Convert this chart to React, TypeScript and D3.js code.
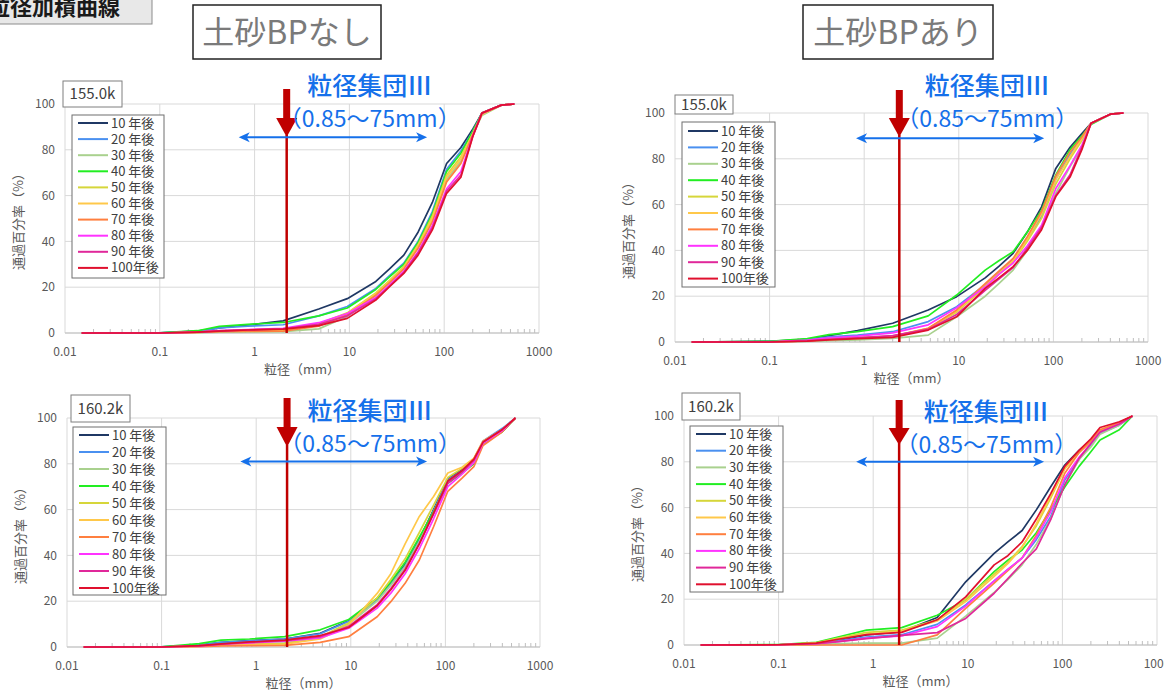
import React from 'react';
import * as d3 from 'd3';

// sieve sizes (mm) shared by every curve
const SIZES = [0.015, 0.1, 0.25, 0.425, 0.85, 2, 4.75, 9.5, 19, 26.5, 37.5, 53, 75, 106, 150, 200, 250, 400, 550];

const YEARS = ['10 年後', '20 年後', '30 年後', '40 年後', '50 年後', '60 年後', '70 年後', '80 年後', '90 年後', '100年後'];
const COLORS = ['#1f3864', '#4a90f0', '#a9d18e', '#22ee22', '#d6d63a', '#ffc84a', '#ff7f3f', '#ff33ff', '#e0289a', '#e0102e'];

const X_TICKS = [0.01, 0.1, 1, 10, 100, 1000];
const X_TICK_LABELS = ['0.01', '0.1', '1', '10', '100', '1000'];
const Y_TICKS = [0, 20, 40, 60, 80, 100];

// 土砂BPなし 155.0k
const NASHI_155 = [
  [0, 0.1, 0.8, 2.2, 3.5, 5.3, 10.5, 15, 22.5, 28, 34, 44, 57, 74, 81, 89, 96, 99.5, 100],
  [0, 0.1, 0.7, 2.2, 3, 3.6, 7.5, 11.6, 19.5, 25, 30.5, 40, 53, 71.5, 79.5, 88, 96, 99.5, 100],
  [0, 0, 0.2, 0.4, 0.5, 0.6, 1.8, 7.2, 16.5, 22, 28.5, 38, 50, 67, 75, 86.5, 95, 99.5, 100],
  [0, 0.1, 1, 2.9, 3.8, 4.6, 7.5, 10.9, 19, 24.5, 30, 39.5, 52, 70.5, 78.5, 88, 96, 99.5, 100],
  [0, 0, 0.4, 0.9, 1.2, 1.5, 4, 8.8, 17.5, 23, 29, 38.5, 51, 69, 77, 87, 95.5, 99.5, 100],
  [0, 0, 0.3, 0.8, 1, 1.2, 3.6, 8.5, 17, 22.5, 28.5, 38, 50, 68, 76, 87, 95.5, 99.5, 100],
  [0, 0, 0.3, 0.6, 0.7, 0.8, 3, 8, 16.5, 22, 28, 37, 48.5, 66, 74, 86.5, 96, 99.5, 100],
  [0, 0, 0.4, 1, 1.5, 2, 4.5, 8.5, 15.5, 21, 27, 35.5, 47, 63, 70.5, 86, 96, 99.5, 100],
  [0, 0, 0.4, 0.9, 1.4, 1.8, 3.8, 7.5, 15, 20.5, 26.5, 35, 46, 62, 69, 86, 96, 99.5, 100],
  [0, 0, 0.4, 0.8, 1.3, 1.7, 3.2, 6.4, 14.4, 20.2, 26, 34, 45, 61, 68, 85.7, 96, 99.5, 100],
];

// 土砂BPあり 155.0k
const ARI_155 = [
  [0, 0.3, 1.2, 2.8, 5, 8.2, 14, 19.8, 28, 33, 38.7, 48, 59, 75.8, 85, 91, 95.5, 99.5, 100],
  [0, 0.2, 1, 2.2, 3, 4.5, 8.9, 15.4, 25, 30.5, 36, 45, 55, 71, 82, 89, 95.5, 99.5, 100],
  [0, 0, 0.3, 0.6, 0.9, 1.6, 3, 11, 20, 25.5, 31.4, 40, 50.4, 65, 76.6, 85, 95.5, 99.5, 100],
  [0, 0.3, 1.5, 3.2, 4.5, 6.7, 11.4, 20.5, 31.4, 35.5, 39.4, 48, 57.6, 73, 84, 90, 95, 99.5, 100],
  [0, 0, 0.5, 1.2, 1.8, 2.5, 6, 13, 24, 29.5, 35, 44, 54, 69, 80, 88, 95.5, 99.5, 100],
  [0, 0, 0.5, 1, 1.6, 2.3, 5.8, 13.5, 24.5, 30, 35.5, 45, 56, 71, 81, 89, 95.5, 99.5, 100],
  [0, 0, 0.5, 1.2, 1.8, 2.6, 6, 14, 25.5, 31, 36.5, 46, 57, 72.5, 83, 89.5, 95.5, 99.5, 100],
  [0, 0.1, 0.8, 1.8, 2.6, 4, 7.5, 15, 24, 29.5, 34.5, 42, 51, 67, 77, 86, 95.5, 99.5, 100],
  [0, 0, 0.5, 1.2, 1.8, 2.8, 5.5, 12, 22.5, 27.5, 32.5, 41, 50, 64, 73, 85, 95.5, 99.5, 100],
  [0, 0, 0.4, 0.9, 1.5, 2, 5.2, 11, 23.4, 28, 32.9, 40, 49, 63.5, 72, 84, 95.5, 99.5, 100],
];

// 土砂BPなし 160.2k
const NASHI_160 = [
  [0, 0.1, 0.8, 2, 2.8, 3.5, 6, 11.5, 21, 28, 36, 47, 60, 73.5, 77.5, 82, 89.5, 95, 100],
  [0, 0.1, 0.8, 2, 2.7, 3.4, 5.8, 11.2, 20.5, 27.5, 35.5, 46.5, 59.5, 73, 77, 82, 90, 95.5, 100],
  [0, 0, 0.5, 1.2, 1.5, 1.8, 4, 10, 20, 27, 35, 46, 59, 72, 76, 80.5, 88.5, 94, 100],
  [0, 0.1, 1.5, 3, 3.5, 4.5, 7.5, 12, 21.3, 28.5, 37, 48, 59, 71.5, 76, 80, 89, 94, 100],
  [0, 0, 0.5, 1, 1.3, 1.5, 4.5, 10.5, 21.5, 29.5, 38.5, 50, 62, 74, 78, 82, 89.5, 95, 100],
  [0, 0, 0.4, 0.8, 1, 1.2, 3.5, 9.5, 23.4, 32, 45, 57, 65.7, 76, 78.5, 82.5, 90, 95, 100],
  [0, 0, 0.2, 0.5, 0.6, 0.7, 2, 4.5, 13.2, 19.8, 27.8, 38, 52.5, 68, 73.7, 78.8, 88, 94, 100],
  [0, 0, 0.5, 1.2, 1.8, 2.5, 4, 8.2, 17, 23.5, 32, 43, 56, 70, 75.5, 80.5, 89, 94.5, 100],
  [0, 0, 0.5, 1.2, 2, 2.8, 4.5, 9, 18.5, 25.5, 34, 45, 58, 71.5, 76.5, 81.5, 89.5, 95, 100],
  [0, 0, 0.6, 1.4, 2.2, 3, 5, 8.5, 18, 25, 33.5, 45, 58.5, 72.5, 77, 82, 89.5, 95, 100],
];

// 土砂BPあり 160.2k
const ARI_160 = [
  [0, 0.1, 0.8, 2, 4.4, 5.8, 12, 27.6, 40, 45, 50, 59, 69, 78.6, 85, 89.5, 93, 96.8, 100],
  [0, 0.1, 0.6, 1.8, 3.5, 4.5, 9, 17.5, 28, 33, 38, 46, 56, 72, 81, 87.5, 92.5, 96, 100],
  [0, 0, 0.3, 0.6, 0.8, 0.8, 3, 12.6, 23, 28.5, 35, 44, 55, 70, 81, 86.5, 92, 96, 100],
  [0, 0.2, 1.2, 3.5, 6.5, 7.6, 13, 19.7, 32, 37, 41.5, 49, 59, 69, 78, 84.4, 89.5, 94, 100],
  [0, 0.1, 1, 3, 5.5, 6.5, 11, 20, 31, 36, 43, 52, 64, 77, 84, 89, 93.5, 97, 100],
  [0, 0.1, 0.8, 2.5, 4.8, 6, 10.5, 19, 30, 35.5, 42.5, 53, 65, 77, 84.5, 89.5, 94, 97, 100],
  [0, 0, 0, 0, 0, 0, 4.4, 16, 27, 32.5, 38, 48, 60, 75, 84, 89, 94, 97, 100],
  [0, 0.1, 0.6, 1.5, 3, 4, 8, 17, 28, 33, 38, 47, 58, 73, 82, 88, 93, 96.5, 100],
  [0, 0.1, 0.6, 1.5, 2.8, 4.2, 5.4, 11.6, 22.6, 29, 35.7, 42, 54.6, 70, 81.5, 88, 93, 96.5, 100],
  [0, 0.1, 0.8, 2.5, 4.5, 5.5, 11, 21, 35, 39, 45, 55, 66, 78, 85, 90, 95, 97.5, 100],
];

const PANELS = [
  {
    data: NASHI_155, tag: '155.0k', x0: 65, x1: 539, yTop: 104, yBot: 333,
    tagBox: { x: 63, y: 81, w: 59, h: 26 },
    legend: { x: 72, y: 115, w: 92, h: 163, first: 123, step: 16.1 },
    red: { x: 2.18, top: 89, base: 118, tip: 137 },
    blue: { y: 85.5, from: 0.68, to: 66 },
    note: { x: 16.4, y1: 95, y2: 127 },
  },
  {
    data: ARI_155, tag: '155.0k', x0: 675, x1: 1148, yTop: 113, yBot: 342,
    tagBox: { x: 675, y: 95, w: 58, h: 19 },
    legend: { x: 682, y: 122, w: 93, h: 165, first: 131, step: 16.4 },
    red: { x: 2.35, top: 90, base: 118, tip: 137 },
    blue: { y: 89, from: 0.82, to: 80 },
    note: { x: 20, y1: 95, y2: 127 },
  },
  {
    data: NASHI_160, tag: '160.2k', x0: 67, x1: 540, yTop: 418, yBot: 647,
    tagBox: { x: 71, y: 395, w: 59, h: 27 },
    legend: { x: 73, y: 427, w: 93, h: 168, first: 435, step: 17 },
    red: { x: 2.12, top: 398, base: 427, tip: 447 },
    blue: { y: 81, from: 0.68, to: 64 },
    note: { x: 16, y1: 420, y2: 452 },
  },
  {
    data: ARI_160, tag: '160.2k', x0: 684, x1: 1157, yTop: 416, yBot: 645,
    tagBox: { x: 682, y: 393, w: 58, h: 27 },
    legend: { x: 690, y: 426, w: 93, h: 166, first: 434, step: 16.7 },
    red: { x: 1.88, top: 400, base: 428, tip: 445 },
    blue: { y: 80, from: 0.66, to: 64 },
    note: { x: 15.7, y1: 421, y2: 453 },
  },
];

const FONT = '"Noto Sans CJK JP", "Noto Sans", sans-serif';
const BLUE = '#1570ea';
const RED = '#c00000';

function Panel({ p }: { p: any }) {
  const x = d3.scaleLog().domain([0.01, 1000]).range([p.x0, p.x1]);
  const y = d3.scaleLinear().domain([0, 100]).range([p.yBot, p.yTop]);
  const line = d3.line<number>().x((_, i) => x(SIZES[i])).y(d => y(d));
  const minor = x.ticks().filter(t => Math.abs(Math.log10(t) - Math.round(Math.log10(t))) > 1e-6);

  const rx = x(p.red.x);
  const by = y(p.blue.y);
  const bx0 = x(p.blue.from);
  const bx1 = x(p.blue.to);
  const nx = x(p.note.x);

  return (
    <g>
      {/* grid */}
      {Y_TICKS.map(t => (
        <line key={'gy' + t} x1={p.x0} x2={p.x1} y1={y(t)} y2={y(t)} stroke="#d9d9d9" strokeWidth={1} />
      ))}
      {X_TICKS.map(t => (
        <line key={'gx' + t} x1={x(t)} x2={x(t)} y1={p.yTop} y2={p.yBot} stroke="#d9d9d9" strokeWidth={1} />
      ))}
      <line x1={p.x0} x2={p.x1} y1={p.yBot} y2={p.yBot} stroke="#bfbfbf" strokeWidth={1.2} />
      {minor.map(t => (
        <line key={'mt' + t} x1={x(t)} x2={x(t)} y1={p.yBot} y2={p.yBot - 4} stroke="#bfbfbf" strokeWidth={1} />
      ))}

      {/* tick labels */}
      {Y_TICKS.map(t => (
        <text key={'ly' + t} x={p.x0 - 10} y={y(t)} dy="0.35em" textAnchor="end" fontSize={12} fill="#595959">{t}</text>
      ))}
      {X_TICKS.map((t, i) => (
        <text key={'lx' + t} x={x(t)} y={p.yBot + 23} textAnchor="middle" fontSize={12} fill="#595959">{X_TICK_LABELS[i]}</text>
      ))}
      <text x={(p.x0 + p.x1) / 2} y={p.yBot + 41} textAnchor="middle" fontSize={13} fill="#595959">粒径（mm）</text>
      <text transform={`translate(${p.x0 - 47},${(p.yTop + p.yBot) / 2}) rotate(-90)`} textAnchor="middle" dy="0.35em" fontSize={13} fill="#595959">通過百分率（%）</text>

      {/* curves */}
      {p.data.map((s: number[], i: number) => (
        <path key={'c' + i} d={line(s) || ''} fill="none" stroke={COLORS[i]} strokeWidth={1.7} strokeLinejoin="round" />
      ))}

      {/* legend */}
      <rect x={p.legend.x} y={p.legend.y} width={p.legend.w} height={p.legend.h} fill="#fff" stroke="#6f6f6f" strokeWidth={1} />
      {YEARS.map((lab, i) => {
        const ly = p.legend.first + i * p.legend.step;
        return (
          <g key={'lg' + i}>
            <line x1={p.legend.x + 6} x2={p.legend.x + 36} y1={ly} y2={ly} stroke={COLORS[i]} strokeWidth={2} />
            <text x={p.legend.x + 39} y={ly} dy="0.35em" fontSize={13} fill="#404040">{lab}</text>
          </g>
        );
      })}

      {/* tag */}
      <rect x={p.tagBox.x} y={p.tagBox.y} width={p.tagBox.w} height={p.tagBox.h} fill="#fff" stroke="#7f7f7f" strokeWidth={1} />
      <text x={p.tagBox.x + p.tagBox.w / 2} y={p.tagBox.y + p.tagBox.h / 2} dy="0.36em" textAnchor="middle" fontSize={15} fill="#404040">{p.tag}</text>

      {/* annotations */}
      <line x1={rx} x2={rx} y1={p.red.tip - 2} y2={p.yBot} stroke={RED} strokeWidth={2.5} />
      <rect x={rx - 3.5} y={p.red.top} width={7} height={p.red.base - p.red.top + 1} fill={RED} />
      <path d={`M${rx - 10.5},${p.red.base} L${rx + 10.5},${p.red.base} L${rx},${p.red.tip} Z`} fill={RED} />

      <line x1={bx0 + 4} x2={bx1 - 4} y1={by} y2={by} stroke={BLUE} strokeWidth={2} />
      <path d={`M${bx1},${by} L${bx1 - 11},${by - 5} L${bx1 - 8},${by} L${bx1 - 11},${by + 5} Z`} fill={BLUE} />
      <path d={`M${bx0},${by} L${bx0 + 11},${by - 5} L${bx0 + 8},${by} L${bx0 + 11},${by + 5} Z`} fill={BLUE} />

      <text x={nx} y={p.note.y1} textAnchor="middle" fontSize={25} fontWeight={500} fill={BLUE}>粒径集団Ⅲ</text>
      <text x={nx} y={p.note.y2} textAnchor="middle" fontSize={23} fill={BLUE}>（0.85～75mm）</text>
    </g>
  );
}

export default function App() {
  return (
    <svg width={1164} height={695} style={{ position: 'absolute', left: 0, top: 0, fontFamily: FONT, background: '#fff' }}>
      <rect x={0} y={0} width={1164} height={695} fill="#fff" />
      {/* header */}
      <rect x={-2} y={-2} width={154} height={26} fill="#e8e8e8" stroke="#8c8c8c" strokeWidth={1} />
      <text x={120} y={15} textAnchor="end" fontSize={22} fontWeight="bold" fill="#1a1a1a">粒径加積曲線</text>

      <rect x={193} y={5} width={188} height={54} fill="#fff" stroke="#222" strokeWidth={1.5} />
      <text x={287} y={32} dy="0.36em" textAnchor="middle" fontSize={32} fill="#7a7a7a">土砂BPなし</text>
      <rect x={803} y={5} width={190} height={54} fill="#fff" stroke="#222" strokeWidth={1.5} />
      <text x={898} y={32} dy="0.36em" textAnchor="middle" fontSize={32} fill="#7a7a7a">土砂BPあり</text>

      {PANELS.map((p, i) => <Panel key={i} p={p} />)}
    </svg>
  );
}
